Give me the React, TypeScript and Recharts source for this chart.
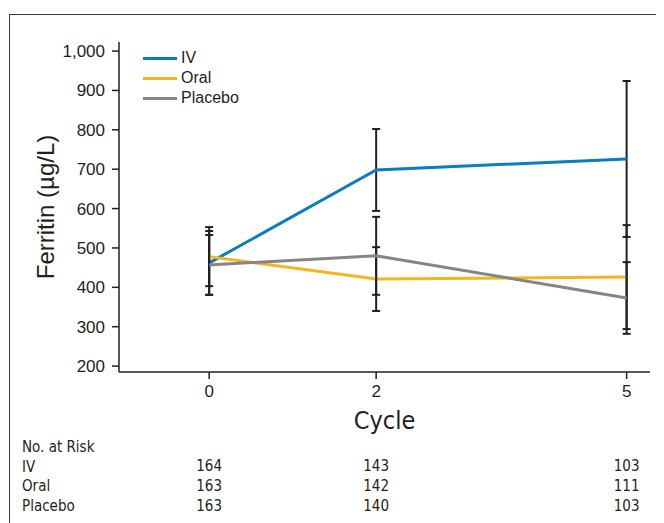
import {
  LineChart,
  Line,
  XAxis,
  YAxis,
  ErrorBar,
  Legend,
  Label,
} from "recharts";

const cycles = [0, 2, 5];

const ivMean = [462, 698, 726];
const ivSd = [81, 104, 198];

const oralMean = [478, 421, 426];
const oralSd = [75, 81, 132];

const placeboMean = [457, 480, 373];
const placeboSd = [76, 99, 91];

const yTicks = [200, 300, 400, 500, 600, 700, 800, 900, 1000];

const riskGroups = ["IV", "Oral", "Placebo"];
const ivRisk = [164, 143, 103];
const oralRisk = [163, 142, 111];
const placeboRisk = [163, 140, 103];

const seriesColors = {
  iv: "#0a7cc2",
  oral: "#f0b71e",
  placebo: "#858585",
};

const narrow = "'Liberation Sans Narrow', 'DejaVu Sans Condensed', sans-serif";
const sans = "'Liberation Sans', Arial, sans-serif";

const chartData = cycles.map((c, i) => ({
  cycle: c,
  iv: ivMean[i],
  ivErr: ivSd[i],
  oral: oralMean[i],
  oralErr: oralSd[i],
  placebo: placeboMean[i],
  placeboErr: placeboSd[i],
}));

const riskRows = [ivRisk, oralRisk, placeboRisk];

function LegendBox({ payload }: any) {
  return (
    <div style={{ fontFamily: sans, fontSize: 16, color: "#231f20" }}>
      {(payload || []).map((item: any) => (
        <div
          key={item.value}
          style={{ display: "flex", alignItems: "center", height: 20 }}
        >
          <span
            style={{
              display: "inline-block",
              width: 34,
              height: 3,
              background: item.color,
              marginRight: 4,
            }}
          />
          {item.value}
        </div>
      ))}
    </div>
  );
}

export default function App() {
  const axisColor = "#231f20";

  return (
    <div
      style={{
        position: "relative",
        width: 656,
        height: 515,
        overflow: "hidden",
      }}
    >
      <div
        style={{
          position: "absolute",
          left: 1,
          top: 6,
          width: 720,
          height: 600,
          borderTop: "1.5px solid #3a3a3a",
          borderLeft: "1.5px solid #3a3a3a",
        }}
      />

      <div
        style={{
          position: "absolute",
          left: 14,
          top: 430,
          fontFamily: narrow,
          fontSize: 15,
          color: axisColor,
          lineHeight: "19.7px",
        }}
      >
        <div>No. at Risk</div>
        {riskGroups.map((g) => (
          <div key={g}>{g}</div>
        ))}
      </div>

      <LineChart
        width={656}
        height={515}
        data={chartData}
        margin={{ top: 34, right: 14, bottom: 3, left: 0 }}
        style={{ position: "absolute", left: 0, top: 0 }}
      >
        <YAxis
          type="number"
          domain={[185, 1023]}
          ticks={yTicks}
          allowDataOverflow
          width={111}
          tickSize={7}
          tickMargin={7}
          stroke={axisColor}
          strokeWidth={1.5}
          tick={{ fill: axisColor, fontSize: 17, fontFamily: sans }}
          tickFormatter={(v: number) => v.toLocaleString("en-US")}
        >
          <Label
            value="Ferritin (µg/L)"
            angle={-90}
            position="center"
            dx={-18}
            style={{ fontSize: 24, fontFamily: sans, fill: axisColor }}
          />
        </YAxis>

        <XAxis
          dataKey="cycle"
          type="number"
          domain={[-1.08, 5.28]}
          ticks={cycles}
          allowDataOverflow
          height={88}
          tickSize={7}
          tickMargin={6}
          stroke={axisColor}
          strokeWidth={1.5}
          tick={{ fill: axisColor, fontSize: 17, fontFamily: sans }}
        >
          <Label
            value="Cycle"
            position="center"
            dy={4}
            style={{ fontSize: 25, fontFamily: narrow, fill: axisColor }}
          />
        </XAxis>

        {riskRows.map((row, r) => (
          <XAxis
            key={riskGroups[r]}
            xAxisId={"risk" + r}
            dataKey="cycle"
            type="number"
            domain={[-1.08, 5.28]}
            ticks={cycles}
            allowDataOverflow
            height={20}
            axisLine={false}
            tickLine={false}
            tickSize={0}
            tickMargin={0}
            tick={{ fill: axisColor, fontSize: 15, fontFamily: narrow }}
            tickFormatter={(v: number) => String(row[cycles.indexOf(v)])}
          />
        ))}

        <Legend
          layout="vertical"
          align="center"
          verticalAlign="middle"
          content={<LegendBox />}
          wrapperStyle={{ left: 135, top: 40, width: 140, height: 60 }}
        />

        <Line
          name="IV"
          dataKey="iv"
          stroke={seriesColors.iv}
          strokeWidth={3}
          dot={false}
          activeDot={false}
          isAnimationActive={false}
        >
          <ErrorBar
            dataKey="ivErr"
            direction="y"
            width={4}
            stroke={axisColor}
            strokeWidth={2}
          />
        </Line>
        <Line
          name="Oral"
          dataKey="oral"
          stroke={seriesColors.oral}
          strokeWidth={3}
          dot={false}
          activeDot={false}
          isAnimationActive={false}
        >
          <ErrorBar
            dataKey="oralErr"
            direction="y"
            width={4}
            stroke={axisColor}
            strokeWidth={2}
          />
        </Line>
        <Line
          name="Placebo"
          dataKey="placebo"
          stroke={seriesColors.placebo}
          strokeWidth={3}
          dot={false}
          activeDot={false}
          isAnimationActive={false}
        >
          <ErrorBar
            dataKey="placeboErr"
            direction="y"
            width={4}
            stroke={axisColor}
            strokeWidth={2}
          />
        </Line>
      </LineChart>
    </div>
  );
}
